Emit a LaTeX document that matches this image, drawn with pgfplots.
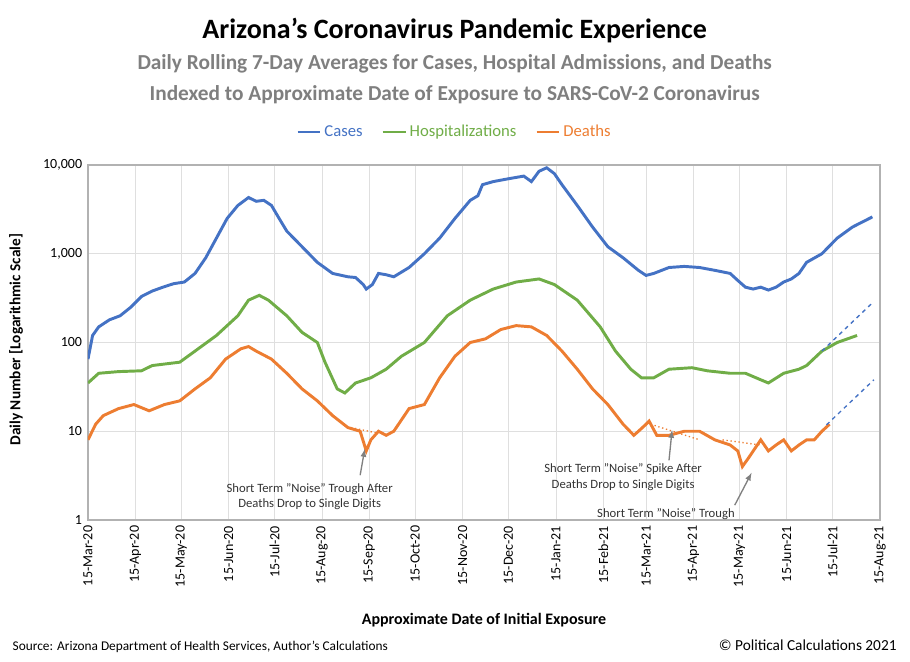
\documentclass[border=0pt]{standalone}
\usepackage{pgfplots}
\pgfplotsset{compat=1.18}
\usepackage{fontspec}
\setmainfont{Carlito}
\definecolor{cblue}{HTML}{4472C4}
\definecolor{cgreen}{HTML}{70AD47}
\definecolor{corange}{HTML}{ED7D31}
\definecolor{cgray}{HTML}{7F7F7F}
\begin{document}
\begin{tikzpicture}
\path[use as bounding box] (0,0) rectangle (682.5pt,495.75pt);
\node[font=\bfseries\fontsize{21}{24}\selectfont] at (341pt,473pt) {Arizona's Coronavirus Pandemic Experience};
\node[font=\bfseries\fontsize{16}{18}\selectfont,text=cgray] at (341pt,448pt) {Daily Rolling 7-Day Averages for Cases, Hospital Admissions, and Deaths};
\node[font=\bfseries\fontsize{16}{18}\selectfont,text=cgray] at (341pt,425pt) {Indexed to Approximate Date of Exposure to SARS-CoV-2 Coronavirus};
\node[font=\bfseries\fontsize{11.5}{13}\selectfont,rotate=90] at (12pt,241pt) {Daily Number [Logarithmic Scale]};
\node[font=\bfseries\fontsize{12}{14}\selectfont] at (363pt,31pt) {Approximate Date of Initial Exposure};
\node[font=\fontsize{10}{12}\selectfont,anchor=west] at (6pt,10.5pt) {Source: Arizona Department of Health Services, Author's Calculations};
\node[font=\fontsize{11.5}{13}\selectfont,anchor=east] at (676pt,11.5pt) {\textcopyright{} Political Calculations 2021};
\begin{axis}[
  at={(66pt,105.75pt)}, anchor=south west,
  scale only axis, width=594pt, height=266.25pt,
  ymode=log, ymin=1, ymax=10000,
  xmin=0, xmax=518,
  xtick={0,31,61,92,122,153,184,214,245,275,306,337,365,396,426,457,487,518},
  xticklabels={15-Mar-20,15-Apr-20,15-May-20,15-Jun-20,15-Jul-20,15-Aug-20,15-Sep-20,15-Oct-20,15-Nov-20,15-Dec-20,15-Jan-21,15-Feb-21,15-Mar-21,15-Apr-21,15-May-21,15-Jun-21,15-Jul-21,15-Aug-21},
  xticklabel style={rotate=90,anchor=east,font=\fontsize{10.5}{12}\selectfont},
  ytick={1,10,100,1000,10000},
  yticklabels={1,10,100,{1,000},{10,000}},
  yticklabel style={font=\fontsize{10.5}{12}\selectfont},
  grid=major, major grid style={gray!25},
  axis line style={gray!60},
  tick style={draw=none},
  legend columns=3,
  legend style={at={(0.463,1.093)},anchor=center,draw=none,fill=none,font=\fontsize{12.5}{14}\selectfont,/tikz/every even column/.append style={column sep=12pt}},
  legend image post style={line width=2.2pt},
  line width=2.2pt,
]
\addplot[cblue] coordinates {(0,65)(3,120)(7,150)(14,180)(21,200)(28,250)(35,330)(42,380)(49,420)(56,460)(63,480)(70,600)(77,900)(84,1500)(91,2500)(98,3500)(105,4300)(110,3900)(115,4000)(120,3500)(125,2500)(130,1800)(140,1200)(150,800)(160,600)(170,550)(175,540)(180,450)(182,400)(186,450)(190,600)(195,580)(200,550)(210,700)(220,1000)(230,1500)(240,2500)(250,4000)(255,4500)(258,6000)(265,6500)(275,7000)(285,7500)(290,6500)(295,8500)(300,9300)(305,8000)(310,6000)(320,3500)(330,2000)(340,1200)(350,900)(360,650)(365,570)(370,600)(380,700)(390,720)(400,700)(410,650)(420,600)(425,500)(430,420)(435,400)(440,420)(445,390)(450,420)(455,480)(460,520)(465,600)(470,800)(480,1000)(490,1500)(500,2000)(513,2600)};
\addlegendentry{\textcolor{cblue}{Cases}}
\addplot[cgreen] coordinates {(0,35)(7,45)(20,47)(35,48)(42,55)(60,60)(70,80)(84,120)(98,200)(105,300)(112,340)(118,300)(130,200)(140,130)(150,100)(155,60)(163,30)(168,27)(175,35)(185,40)(195,50)(205,70)(220,100)(235,200)(250,300)(265,400)(280,480)(295,520)(305,450)(320,300)(335,150)(345,80)(355,50)(362,40)(370,40)(380,50)(395,52)(405,48)(420,45)(430,45)(440,38)(445,35)(455,45)(465,50)(470,55)(480,80)(490,100)(503,120)};
\addlegendentry{\textcolor{cgreen}{Hospitalizations}}
\addplot[corange] coordinates {(0,8)(5,12)(10,15)(20,18)(30,20)(40,17)(50,20)(60,22)(70,30)(80,40)(90,65)(100,85)(105,90)(110,80)(120,65)(130,45)(140,30)(150,22)(160,15)(170,11)(178,10)(182,6)(185,8)(190,10)(195,9)(200,10)(210,18)(220,20)(230,40)(240,70)(250,100)(260,110)(270,140)(280,155)(290,150)(300,120)(310,80)(320,50)(330,30)(340,20)(350,12)(357,9)(360,10)(365,12)(367,13)(372,9)(380,9)(390,10)(400,10)(410,8)(420,7)(425,6)(428,4)(432,5)(440,8)(445,6)(450,7)(455,8)(460,6)(465,7)(470,8)(475,8)(480,10)(485,12)};
\addlegendentry{\textcolor{corange}{Deaths}}
\addplot[cblue,dashed,line width=1pt] coordinates {(480,80)(514,290)};
\addplot[cblue,dashed,line width=1pt] coordinates {(483,11.8)(514,38)};
\addplot[corange,dotted,line width=1pt] coordinates {(172,11)(190,9.5)};
\addplot[corange,dotted,line width=1pt] coordinates {(368,12)(400,8)};
\addplot[corange,dotted,line width=1pt] coordinates {(415,8)(440,7)};
\node[font=\fontsize{9.5}{11.5}\selectfont,align=center,text=black!80] at (axis cs:145,1.85) {Short Term "Noise" Trough After\\Deaths Drop to Single Digits};
\node[font=\fontsize{9.5}{11.5}\selectfont,align=center,text=black!80] at (axis cs:350,3.05) {Short Term "Noise" Spike After\\Deaths Drop to Single Digits};
\node[font=\fontsize{9.5}{11.5}\selectfont,align=center,text=black!80] at (axis cs:378,1.17) {Short Term "Noise" Trough};
\draw[-latex,gray,line width=1pt] (axis cs:178,3.2) -- (axis cs:181,6.3);
\draw[-latex,gray,line width=1pt] (axis cs:380,4.7) -- (axis cs:382,10.3);
\draw[-latex,gray,line width=1pt] (axis cs:423,1.47) -- (axis cs:434,3.4);
\end{axis}
\end{tikzpicture}
\end{document}
